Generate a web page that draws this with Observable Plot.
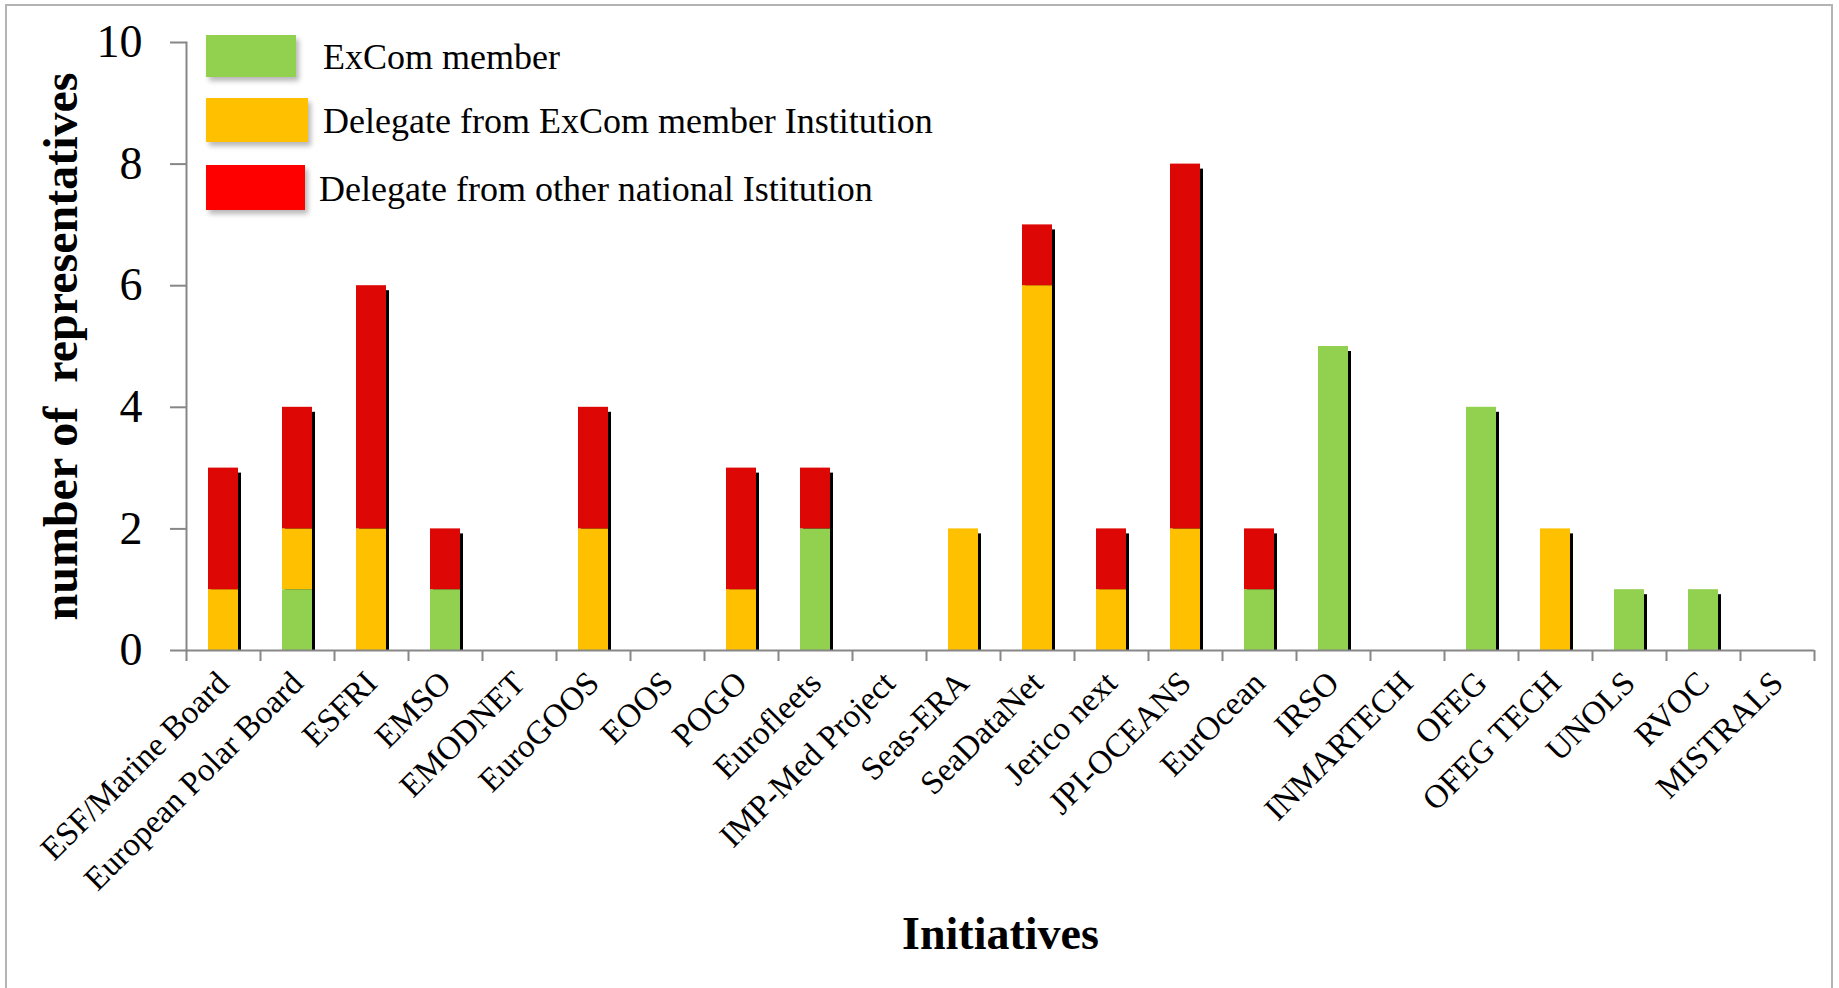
<!DOCTYPE html>
<html>
<head>
<meta charset="utf-8">
<script src="https://cdn.jsdelivr.net/npm/d3@7"></script>
<script src="https://cdn.jsdelivr.net/npm/@observablehq/plot@0.6"></script>
<style>
  html, body { margin: 0; padding: 0; background: #fff; overflow: hidden; }
  #wrap { position: relative; width: 1839px; height: 988px; font-family: "Liberation Serif", "Times New Roman", serif; }
  #border { position: absolute; left: 5px; top: 4px; width: 1828px; height: 1000px; border: 2px solid #b4b4b4; box-sizing: border-box; }
  #chart { position: absolute; left: 0; top: 0; }
  .lg-sw { position: absolute; box-shadow: 3px 4px 5px rgba(0,0,0,0.28); }
  .lg-tx { position: absolute; font-size: 36px; line-height: 36px; white-space: nowrap; color: #000; }
</style>
</head>
<body>
<div id="wrap">
  <div id="border"></div>
  <div id="chart"></div>
  <div id="legend"></div>
</div>
<script>
// ---- data ----
const initiatives = ["ESF/Marine Board", "European Polar Board", "ESFRI", "EMSO", "EMODNET", "EuroGOOS", "EOOS", "POGO", "Eurofleets", "IMP-Med Project", "Seas-ERA", "SeaDataNet", "Jerico next", "JPI-OCEANS", "EurOcean", "IRSO", "INMARTECH", "OFEG", "OFEG TECH", "UNOLS", "RVOC", "MISTRALS"];
const excomMember     = [0, 1, 0, 1, 0, 0, 0, 0, 2, 0, 0, 0, 0, 0, 1, 5, 0, 4, 0, 1, 1, 0];
const delegateExcom   = [1, 1, 2, 0, 0, 2, 0, 1, 0, 0, 2, 6, 1, 2, 0, 0, 0, 0, 2, 0, 0, 0];
const delegateOther   = [2, 2, 4, 1, 0, 2, 0, 2, 1, 0, 0, 1, 1, 6, 1, 0, 0, 0, 0, 0, 0, 0];
const seriesNames = ["ExCom member", "Delegate from ExCom member Institution", "Delegate from other national Istitution"];
const barColors = ["#92d050", "#ffc000", "#dd0806"];
const legendColors = ["#92d050", "#ffc000", "#ff0000"];
const yTicks = [0, 2, 4, 6, 8, 10];
const xTitle = "Initiatives";
const yTitle = "number of\u00a0 representatives";

// ---- table built from arrays ----
const seriesValues = [excomMember, delegateExcom, delegateOther];
const rows = [];
seriesNames.forEach((s, si) => {
  initiatives.forEach((name, i) => rows.push({initiative: name, series: s, value: seriesValues[si][i]}));
});
const totals = initiatives.map((name, i) => ({initiative: name, total: excomMember[i] + delegateExcom[i] + delegateOther[i]}));

const gray = "#878787";
const W = 1839, H = 988;
const mL = 186, mR = 25, mT = 42, mB = 338;
const step = (W - mL - mR) / initiatives.length;

const chart = Plot.plot({
  width: W,
  height: H,
  marginLeft: mL,
  marginRight: mR,
  marginTop: mT,
  marginBottom: mB,
  style: {fontFamily: "'Liberation Serif', 'Times New Roman', serif", background: "transparent", color: "#000"},
  x: {domain: initiatives, paddingInner: 0.595, paddingOuter: 0.2975, label: null},
  y: {domain: [0, 10], label: null},
  color: {domain: seriesNames, range: barColors},
  marks: [
    // shadows
    Plot.barY(totals.filter(d => d.total > 0), {x: "initiative", y: "total", fill: "#000", dx: 3, dy: 5, insetBottom: 5}),
    // stacked bars
    Plot.barY(rows, {x: "initiative", y: "value", fill: "series", order: seriesNames}),
    // y axis
    Plot.frame({anchor: "left", stroke: gray, strokeWidth: 2}),
    Plot.axisY({ticks: yTicks, tickSize: 16, tickPadding: 28, fontSize: 46, stroke: gray, strokeWidth: 2, fill: "#000", tickFormat: d3.format("d")}),
    // x axis line
    Plot.ruleY([0], {stroke: gray, strokeWidth: 2}),
    // x ticks between categories
    Plot.axisX({tickSize: 11, dx: -step / 2, stroke: gray, strokeWidth: 2, fill: "none"}),
    Plot.axisX({ticks: [initiatives[initiatives.length - 1]], tickSize: 11, dx: step / 2, stroke: gray, strokeWidth: 2, fill: "none"}),
    // x labels
    Plot.axisX({tickSize: 0, tickPadding: 27, tickRotate: -45, fontSize: 33, fill: "#000", textAnchor: "end"}),
    // titles
    Plot.text([yTitle], {frameAnchor: "left", textAnchor: "middle", lineAnchor: "middle", rotate: -90, dx: -125, fontSize: 48, fontWeight: "bold", fill: "#000"}),
    Plot.text([xTitle], {frameAnchor: "bottom", dy: 298, fontSize: 46, fontWeight: "bold", fill: "#000"})
  ]
});
document.getElementById("chart").appendChild(chart);

// ---- legend (HTML overlay) ----
const legend = document.getElementById("legend");
const swatchBoxes = [[206, 35, 90, 42], [206, 98, 102, 44], [206, 165, 99, 45]];
const textPos = [[323, 39], [323, 103], [319, 171]];
seriesNames.forEach((s, i) => {
  const sw = document.createElement("div");
  sw.className = "lg-sw";
  const b = swatchBoxes[i];
  sw.style.left = b[0] + "px"; sw.style.top = b[1] + "px";
  sw.style.width = b[2] + "px"; sw.style.height = b[3] + "px";
  sw.style.background = legendColors[i];
  legend.appendChild(sw);
  const tx = document.createElement("div");
  tx.className = "lg-tx";
  tx.style.left = textPos[i][0] + "px"; tx.style.top = textPos[i][1] + "px";
  tx.textContent = s;
  legend.appendChild(tx);
});
</script>
</body>
</html>
